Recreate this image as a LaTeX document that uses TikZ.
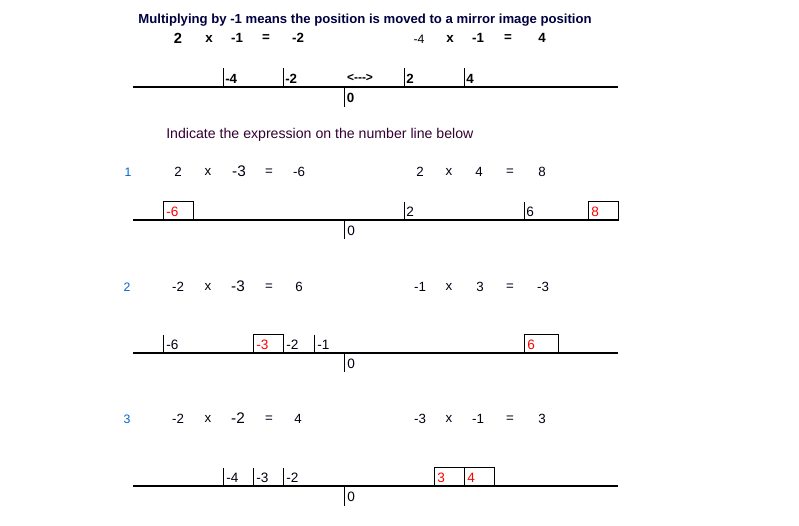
\documentclass[tikz,border=0pt]{standalone}
\usepackage{fontspec}
\setmainfont{Liberation Sans}
\definecolor{navy}{RGB}{0,0,64}
\definecolor{plum}{RGB}{51,0,51}
\definecolor{rowblue}{RGB}{0,102,204}
\definecolor{mred}{RGB}{255,0,0}
\definecolor{ink}{RGB}{0,0,20}
\begin{document}
\begin{tikzpicture}[x=0.75pt,y=-0.75pt,
  nline/.style={line width=1.5pt},
  tick/.style={line width=0.75pt},
  mbox/.style={line width=0.75pt},
  title/.style={font=\bfseries\fontsize{9.85}{11}\selectfont, text=navy, inner sep=0},
  bigb/.style={font=\bfseries\fontsize{11}{13}\selectfont, inner sep=0},
  eqb/.style={font=\bfseries\fontsize{10}{12}\selectfont, inner sep=0},
  eqs/.style={font=\fontsize{9.2}{11}\selectfont, inner sep=0},
  eq/.style={font=\fontsize{10}{12}\selectfont, text=ink, inner sep=0},
  eqbig/.style={font=\fontsize{11.5}{13}\selectfont, text=ink, inner sep=0},
  rownum/.style={font=\fontsize{9.2}{11}\selectfont, text=rowblue, inner sep=0},
  head/.style={font=\fontsize{10.6}{12}\selectfont, text=plum, inner sep=0, anchor=west},
  tl/.style={font=\fontsize{10.2}{11}\selectfont, text=ink, inner sep=0, anchor=base west},
  tlb/.style={font=\bfseries\fontsize{10}{11}\selectfont, inner sep=0, anchor=base west},
  rl/.style={font=\fontsize{10.2}{11}\selectfont, text=mred, inner sep=0, anchor=base west}]
\useasboundingbox (0,0) rectangle (799,525);
\fill[white] (0,0) rectangle (799,525);

% ---------- top part ----------
\node[title] (title) at (365,20) {Multiplying by -1 means the position is moved to a mirror image position};
\node[bigb] (a1) at (178,38) {2};
\node[eqb] (a2) at (209,39) {x};
\node[eqb] (a3) at (237,38) {-1};
\node[eqb] (a4) at (266,38) {=};
\node[eqb] (a5) at (298,38) {-2};
\node[eqs] (b1) at (419,39) {-4};
\node[eqb] (b2) at (450,39) {x};
\node[eqb] (b3) at (478,38) {-1};
\node[eqb] (b4) at (508,38) {=};
\node[eqb] (b5) at (542,38) {4};

\coordinate (L0a) at (133,87); \coordinate (L0b) at (618,87);
\draw[nline] (L0a) -- (L0b);
\foreach \x/\t in {223/-4,283/-2,404/2,464/4}{
  \draw[tick] (\x,68) -- (\x,87);
  \node[tlb] at (\x+2,83) {\t};
}
\node[font=\bfseries\fontsize{9}{10}\selectfont, inner sep=0] (arr) at (360,78) {<{-}{-}{-}>};
\draw[tick] (344,87) -- (344,107);
\node[tlb] (z0) at (346.5,102.5) {0};

% ---------- heading ----------
\node[head] (hd) at (166,134.5) {Indicate the expression on the number line below};

% ---------- row 1 ----------
\node[rownum] (n1) at (128,172) {1};
\node[eq] at (178,172) {2};
\node[eq] at (208,172) {x};
\node[eqbig] at (239,171) {-3};
\node[eq] at (269,172) {=};
\node[eq] at (299,172) {-6};
\node[eq] at (420,172) {2};
\node[eq] at (449,172) {x};
\node[eq] at (479,172) {4};
\node[eq] at (510,172) {=};
\node[eq] at (542,172) {8};

\draw[nline] (133,220) -- (618,220);
\draw[mbox] (163.5,201.5) rectangle (193.5,220);
\node[rl] at (166,216) {-6};
\draw[tick] (404,201.5) -- (404,220);
\node[tl] at (406,216) {2};
\draw[tick] (524,201.5) -- (524,220);
\node[tl] at (526,216) {6};
\draw[mbox] (588.5,201.5) rectangle (618,220);
\node[rl] at (591,216) {8};
\draw[tick] (344.5,220) -- (344.5,239);
\node[tl] at (347,235) {0};

% ---------- row 2 ----------
\node[rownum] (n2) at (127,287) {2};
\node[eq] at (178,287) {-2};
\node[eq] at (208,287) {x};
\node[eqbig] at (238,286) {-3};
\node[eq] at (269,287) {=};
\node[eq] at (299,287) {6};
\node[eq] at (420,287) {-1};
\node[eq] at (449,287) {x};
\node[eq] at (480,287) {3};
\node[eq] at (510,287) {=};
\node[eq] at (543,287) {-3};

\draw[nline] (133,353) -- (618,353);
\draw[tick] (163.5,334.5) -- (163.5,353);
\node[tl] at (166,349) {-6};
\draw[mbox] (253.5,334.5) rectangle (283.5,353);
\node[rl] at (256,349) {-3};
\node[tl] at (286,349) {-2};
\draw[tick] (314.5,334.5) -- (314.5,353);
\node[tl] at (317,349) {-1};
\draw[mbox] (524.5,334.5) rectangle (558,353);
\node[rl] at (527,349) {6};
\draw[tick] (344.5,353) -- (344.5,372);
\node[tl] at (347,368) {0};

% ---------- row 3 ----------
\node[rownum] (n3) at (127,419) {3};
\node[eq] at (178,419) {-2};
\node[eq] at (208,419) {x};
\node[eqbig] at (238,418) {-2};
\node[eq] at (269,419) {=};
\node[eq] at (298,419) {4};
\node[eq] at (420,419) {-3};
\node[eq] at (449,419) {x};
\node[eq] at (478,419) {-1};
\node[eq] at (510,419) {=};
\node[eq] at (542,419) {3};

\draw[nline] (133,486) -- (618,486);
\foreach \x/\t in {223.5/-4,253.5/-3,283.5/-2}{
  \draw[tick] (\x,467.5) -- (\x,486);
  \node[tl] at (\x+2.5,482) {\t};
}
\draw[mbox] (434.5,467.5) rectangle (464.5,486);
\node[rl] at (437,482) {3};
\draw[mbox] (464.5,467.5) rectangle (494.5,486);
\node[rl] at (467,482) {4};
\draw[tick] (344.5,486) -- (344.5,506);
\node[tl] at (347,501) {0};
\end{tikzpicture}
\end{document}
